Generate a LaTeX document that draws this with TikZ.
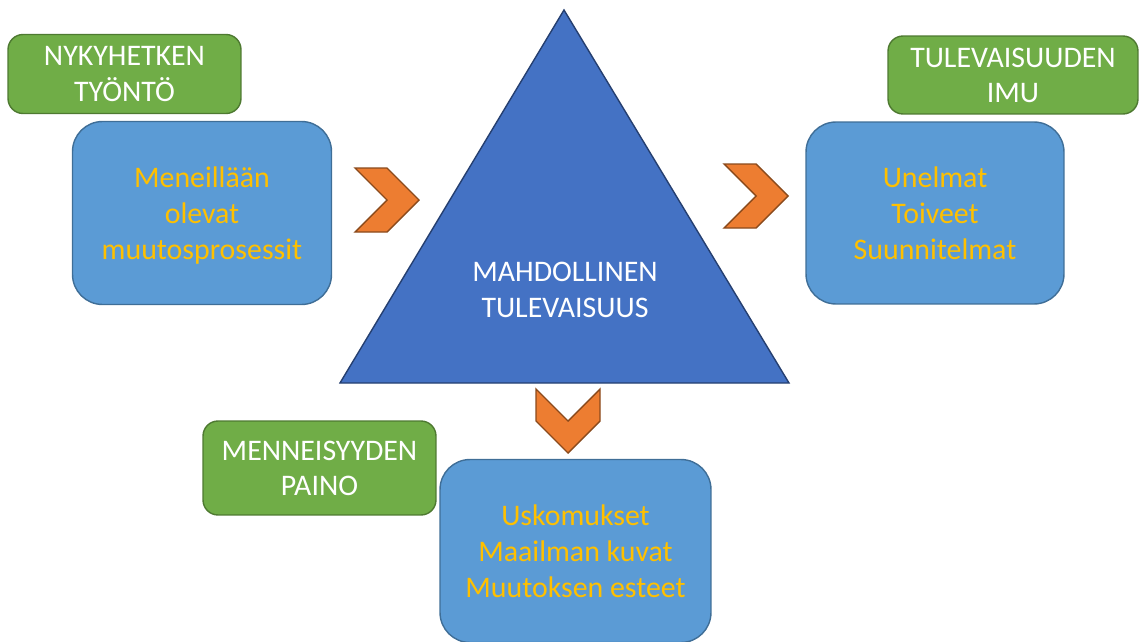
\documentclass[tikz,border=0pt]{standalone}
\usepackage{fontspec}
\setmainfont{Carlito}
\usepackage{xcolor}
\usetikzlibrary{positioning}
\definecolor{forcegreen}{HTML}{70AD47}
\definecolor{forceline}{HTML}{4E7A31}
\definecolor{boxblue}{HTML}{5B9BD5}
\definecolor{boxline}{HTML}{3F6E97}
\definecolor{trianblue}{HTML}{4472C4}
\definecolor{trianline}{HTML}{253F70}
\definecolor{chevorange}{HTML}{ED7D31}
\definecolor{chevline}{HTML}{8A4A1C}
\definecolor{gold}{HTML}{FFC000}
\tikzset{
  forcebox/.style={draw=forceline, line width=0.8pt, fill=forcegreen, rounded corners=0.3cm,
                   align=center, text=white, font=\fontsize{17}{20}\selectfont},
  contentbox/.style={draw=boxline, line width=0.8pt, fill=boxblue, rounded corners=0.6cm,
                     align=center, text=gold, font=\fontsize{17}{20.5}\selectfont},
  contenttext/.style={align=center, text=gold, font=\fontsize{17}{20.5}\selectfont},
  trian/.style={draw=trianline, line width=0.8pt, fill=trianblue},
  chev/.style={draw=chevline, line width=0.8pt, fill=chevorange, line join=miter},
  chevron/.pic={\draw[chev] (-32,-32) -- (0,-32) -- (32,0) -- (0,32) -- (-32,32) -- (0,0) -- cycle;},
}
\begin{document}
\begin{tikzpicture}[x=0.02cm, y=-0.02cm]
    \useasboundingbox (0,0) rectangle (1139,642);
    % voimat
    \node[forcebox, minimum width=4.66cm, minimum height=1.58cm] (push) at (124.5,74) {NYKYHETKEN\\TYÖNTÖ};
    \node[forcebox, minimum width=5.0cm, minimum height=1.56cm] (pull) at (1013,75) {TULEVAISUUDEN\\IMU};
    \node[forcebox, minimum width=4.66cm, minimum height=1.88cm] (weight) at (319.5,468) {MENNEISYYDEN\\PAINO};
    % sisällöt
    \node[contentbox, minimum width=5.18cm, minimum height=3.66cm] (present) at (202,213) {};
    \node[contenttext] (presenttext) at (202,216) {Meneillään\\olevat\\muutosprosessit};
    \node[contentbox, minimum width=5.16cm, minimum height=3.64cm] (dreams) at (935,213) {Unelmat\\Toiveet\\Suunnitelmat};
    \node[contentbox, minimum width=5.42cm, minimum height=3.66cm] (past) at (575.5,551) {Uskomukset\\Maailman kuvat\\Muutoksen esteet};
    % kolmio
    \draw[trian] (564,10) -- (789,383) -- (340,383) -- cycle;
    \node[text=white, align=center, font=\fontsize{17}{20.5}\selectfont] (future) at (565,290) {MAHDOLLINEN\\TULEVAISUUS};
    % nuolet
    \pic at (387,200) {chevron};
    \pic at (756,196) {chevron};
    \pic[rotate=-90] at (568,421) {chevron};
  \end{tikzpicture}
\end{document}
